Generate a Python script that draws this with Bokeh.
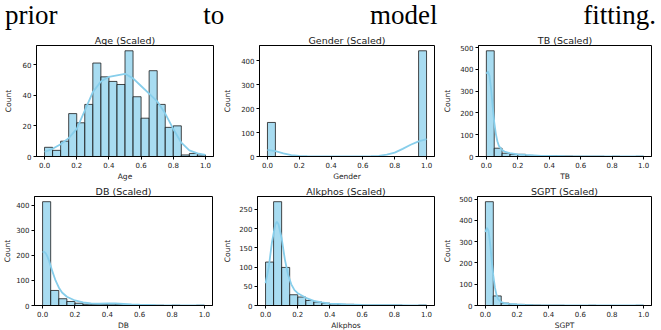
from bokeh.plotting import figure
from bokeh.models import Div, Range1d, FixedTicker, PrintfTickFormatter
from bokeh.layouts import column, row
from bokeh.embed import file_html
from bokeh.resources import INLINE

# ---------------- data ----------------
BIN_EDGES = [0.00, 0.05, 0.10, 0.15, 0.20, 0.25, 0.30, 0.35, 0.40, 0.45, 0.50,
             0.55, 0.60, 0.65, 0.70, 0.75, 0.80, 0.85, 0.90, 0.95, 1.00]
X_TICKS = [0.0, 0.2, 0.4, 0.6, 0.8, 1.0]

age_counts = [6, 4, 10, 28, 22, 34, 61, 52, 49, 47, 69, 39, 25, 56, 34, 19, 20, 1, 2, 1]
gender_counts = [142, 0, 0, 0, 0, 0, 0, 0, 0, 0, 0, 0, 0, 0, 0, 0, 0, 0, 0, 441]
tb_counts = [485, 38, 15, 10, 10, 5, 3, 4, 3, 2, 2, 1, 1, 1, 1, 0, 1, 0, 0, 1]
db_counts = [414, 60, 27, 16, 9, 5, 4, 4, 5, 4, 3, 2, 2, 1, 1, 0, 1, 0, 0, 1]
alk_counts = [113, 270, 99, 28, 22, 13, 9, 6, 4, 3, 3, 1, 1, 1, 1, 1, 1, 0, 0, 1]
sgpt_counts = [488, 45, 11, 6, 5, 3, 2, 1, 1, 1, 0, 0, 0, 1, 0, 0, 0, 0, 0, 1]

age_kde_x = [0.0, 0.05, 0.1, 0.15, 0.2, 0.25, 0.3, 0.35, 0.4, 0.45, 0.5, 0.55,
             0.6, 0.65, 0.7, 0.75, 0.8, 0.85, 0.9, 0.95, 1.0]
age_kde_y = [3, 5, 8, 12, 18, 30, 42, 49, 52, 53, 54, 51, 46, 41, 36, 28, 18, 9, 4, 2, 1]

gender_kde_x = [0.0, 0.05, 0.1, 0.15, 0.2, 0.25, 0.3, 0.35, 0.4, 0.5, 0.6, 0.65,
                0.7, 0.75, 0.8, 0.85, 0.9, 0.95, 1.0]
gender_kde_y = [28, 22, 13, 6, 2.5, 1, 0.3, 0, 0, 0, 0, 1, 3, 8, 16, 32, 49, 63, 72]

tb_kde_x = [0.0, 0.01, 0.02, 0.03, 0.04, 0.05, 0.06, 0.07, 0.08, 0.1, 0.12, 0.15,
            0.2, 0.25, 0.3, 0.35, 0.4, 0.5, 0.6, 0.7, 0.8, 0.9, 1.0]
tb_kde_y = [380, 390, 370, 310, 230, 158, 105, 70, 48, 30, 21, 15, 10, 7, 5, 3,
            2.5, 1.5, 1, 0.8, 0.5, 0.3, 0.3]

db_kde_x = [0.0, 0.01, 0.02, 0.03, 0.04, 0.05, 0.06, 0.08, 0.1, 0.12, 0.15, 0.2,
            0.25, 0.3, 0.35, 0.4, 0.45, 0.5, 0.55, 0.6, 0.7, 0.8, 0.9, 1.0]
db_kde_y = [213, 214, 208, 195, 178, 158, 137, 100, 72, 52, 35, 20, 12, 8, 7, 8,
            8, 6, 4, 3, 1.5, 0.8, 0.4, 0.3]

alk_kde_x = [0.0, 0.02, 0.04, 0.06, 0.07, 0.08, 0.1, 0.12, 0.14, 0.16, 0.18, 0.2,
             0.25, 0.3, 0.35, 0.4, 0.45, 0.5, 0.55, 0.6, 0.7, 0.8, 0.9, 1.0]
alk_kde_y = [58, 100, 165, 210, 218, 212, 175, 120, 80, 55, 40, 32, 20, 12, 8, 5,
             4, 3, 2.5, 1.5, 1, 1, 0.5, 0.3]

sgpt_kde_x = [0.0, 0.01, 0.02, 0.03, 0.04, 0.05, 0.06, 0.07, 0.08, 0.1, 0.12, 0.15,
              0.2, 0.25, 0.3, 0.4, 0.5, 0.7, 1.0]
sgpt_kde_y = [345, 365, 350, 290, 210, 140, 85, 50, 30, 16, 11, 8, 5, 3, 2, 1,
              0.5, 0.3, 0.2]

panels = [
    dict(title="Age (Scaled)", xlabel="Age", counts=age_counts,
         kx=age_kde_x, ky=age_kde_y, yticks=[0, 20, 40, 60]),
    dict(title="Gender (Scaled)", xlabel="Gender", counts=gender_counts,
         kx=gender_kde_x, ky=gender_kde_y, yticks=[0, 100, 200, 300, 400]),
    dict(title="TB (Scaled)", xlabel="TB", counts=tb_counts,
         kx=tb_kde_x, ky=tb_kde_y, yticks=[0, 100, 200, 300, 400, 500]),
    dict(title="DB (Scaled)", xlabel="DB", counts=db_counts,
         kx=db_kde_x, ky=db_kde_y, yticks=[0, 100, 200, 300, 400]),
    dict(title="Alkphos (Scaled)", xlabel="Alkphos", counts=alk_counts,
         kx=alk_kde_x, ky=alk_kde_y, yticks=[0, 50, 100, 150, 200, 250]),
    dict(title="SGPT (Scaled)", xlabel="SGPT", counts=sgpt_counts,
         kx=sgpt_kde_x, ky=sgpt_kde_y, yticks=[0, 100, 200, 300, 400, 500]),
]

# layout geometry per panel: width, height, border left/right/top/bottom, ylabel standoff
geom = [
    (220, 151, 30, 7, 12, 24, 7),
    (220, 151, 33, 6, 12, 24, 6),
    (213, 151, 34, 2, 12, 24, 5),
    (220, 149, 26, 8, 12, 22, 1),
    (220, 149, 31, 6, 12, 22, 4),
    (213, 149, 33, 2, 12, 22, 4),
]

BAR_FILL = "#87ceeb"
TEXT_COL = "#222222"
FONT = "DejaVu Sans"

figs = []
for pn, (w, h, bl, br, bt, bb, ylstand) in zip(panels, geom):
    ymax = max(max(pn["counts"]), max(pn["ky"])) * 1.05
    p = figure(width=w, height=h, output_backend="svg", toolbar_location=None,
               x_range=Range1d(-0.05, 1.05), y_range=Range1d(0, ymax),
               min_border_left=bl, min_border_right=br,
               min_border_top=bt, min_border_bottom=bb)
    p.quad(left=BIN_EDGES[:-1], right=BIN_EDGES[1:], bottom=0, top=pn["counts"],
           fill_color=BAR_FILL, fill_alpha=0.72, line_color="#1a1a1a", line_width=0.8)
    p.line(pn["kx"], pn["ky"], line_color=BAR_FILL, line_width=1.8)

    p.title.text = pn["title"]
    p.title.align = "center"
    p.title.text_font = FONT
    p.title.text_font_size = "9.5px"
    p.title.text_font_style = "normal"
    p.title.text_color = TEXT_COL
    p.title.standoff = 0

    p.grid.visible = False
    p.outline_line_color = "black"
    p.outline_line_width = 1
    p.outline_line_alpha = 1
    p.background_fill_color = "white"
    p.border_fill_color = "white"

    p.xaxis.ticker = FixedTicker(ticks=X_TICKS)
    p.xaxis.formatter = PrintfTickFormatter(format="%.1f")
    p.yaxis.ticker = FixedTicker(ticks=pn["yticks"])
    p.xaxis.axis_label = pn["xlabel"]
    p.yaxis.axis_label = "Count"
    for ax in (p.xaxis, p.yaxis):
        ax.major_label_text_font = FONT
        ax.major_label_text_font_size = "7px"
        ax.major_label_text_color = TEXT_COL
        ax.axis_label_text_font = FONT
        ax.axis_label_text_font_size = "7.5px"
        ax.axis_label_text_font_style = "normal"
        ax.axis_label_text_color = TEXT_COL
        ax.minor_tick_line_color = None
        ax.major_tick_in = 0
        ax.major_tick_out = 3
        ax.major_label_standoff = 2
        ax.axis_line_color = "black"
        ax.major_tick_line_color = "black"
    p.xaxis.axis_label_standoff = 1
    p.yaxis.axis_label_standoff = ylstand
    figs.append(p)

caption = Div(
    text=('<div style="width:651px; height:30px; margin:0; padding:0; '
          'position:relative; top:3px; '
          'font-family:\'Liberation Serif\', \'Times New Roman\', serif; font-size:27px; '
          'line-height:30px; text-align:justify; text-align-last:justify; color:#000; '
          'white-space:normal;">prior to model fitting.</div>'),
    width=651, height=30)

layout = column(caption, row(figs[0], figs[1], figs[2]), row(figs[3], figs[4], figs[5]),
                margin=(-8, 0, -8, 0))

open("out.html", "w").write(file_html(layout, INLINE))
